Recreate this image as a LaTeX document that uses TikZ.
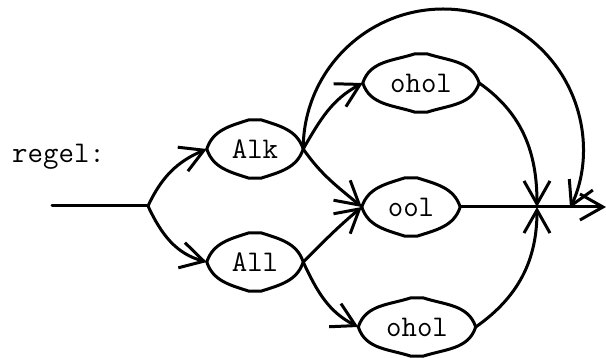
\documentclass[tikz,border=0pt]{standalone}
\usetikzlibrary{arrows.meta,calc}
\tikzset{
  line/.style={line width=3pt, line cap=round, line join=round},
  arr/.style={line, -{Straight Barb[length=23pt,width=26pt,line width=3pt]}},
  lemon/.style={draw=none, inner sep=0pt, minimum height=58pt, font=\ttfamily\fontsize{30}{30}\selectfont},
  lbl/.style={font=\ttfamily\fontsize{30}{30}\selectfont, inner sep=0pt}
}
\newcommand{\lemonoutline}[1]{%
  \draw[line] (#1.west) to[out=72,in=198] ($(#1.north)+(-6,0)$) -- ($(#1.north)+(6,0)$)
    to[out=-18,in=108] (#1.east) to[out=-108,in=18] ($(#1.south)+(6,0)$) -- ($(#1.south)+(-6,0)$)
    to[out=162,in=-72] cycle;}
\begin{document}
\begin{tikzpicture}[x=1pt,y=1pt]
\useasboundingbox (0,0) rectangle (606,358);
\node[lbl, anchor=base west] (regel) at (12,195) {regel:};
\node[lemon, minimum width=96pt] (alk) at (255,209) {Alk};
\node[lemon, minimum width=96pt] (all) at (255,96) {All};
\node[lemon, minimum width=116pt] (oholt) at (421,275) {ohol};
\node[lemon, minimum width=98pt] (ool) at (411,151) {ool};
\node[lemon, minimum width=117pt] (oholb) at (417,31) {ohol};
\foreach \n in {alk,all,oholt,ool,oholb} {\lemonoutline{\n}}
\coordinate (start) at (52,152);
\coordinate (j1) at (148,152);
\coordinate (j2) at (537,151);
\coordinate (end) at (606,151);
\draw[line] (start) -- (j1);
\draw[arr] (j1) to[out=65,in=203] (alk.west);
\draw[arr] (j1) to[out=-65,in=165] (all.west);
\draw[arr] (alk.east) to[out=60,in=208] (oholt.west);
\draw[arr] (alk.east) to[out=-55,in=140] (ool.west);
\draw[arr] (all.east) to[out=45,in=220] (ool.west);
\draw[arr] (all.east) to[out=-65,in=153] (oholb.west);
\draw[arr] (oholt.east) to[out=-35,in=90] (j2);
\draw[arr] (oholb.east) to[out=35,in=-90] (j2);
\draw[arr] (ool.east) -- (end);
\draw[arr] (alk.east) arc[start angle=180, end angle=-25, radius=140];
\end{tikzpicture}
\end{document}
